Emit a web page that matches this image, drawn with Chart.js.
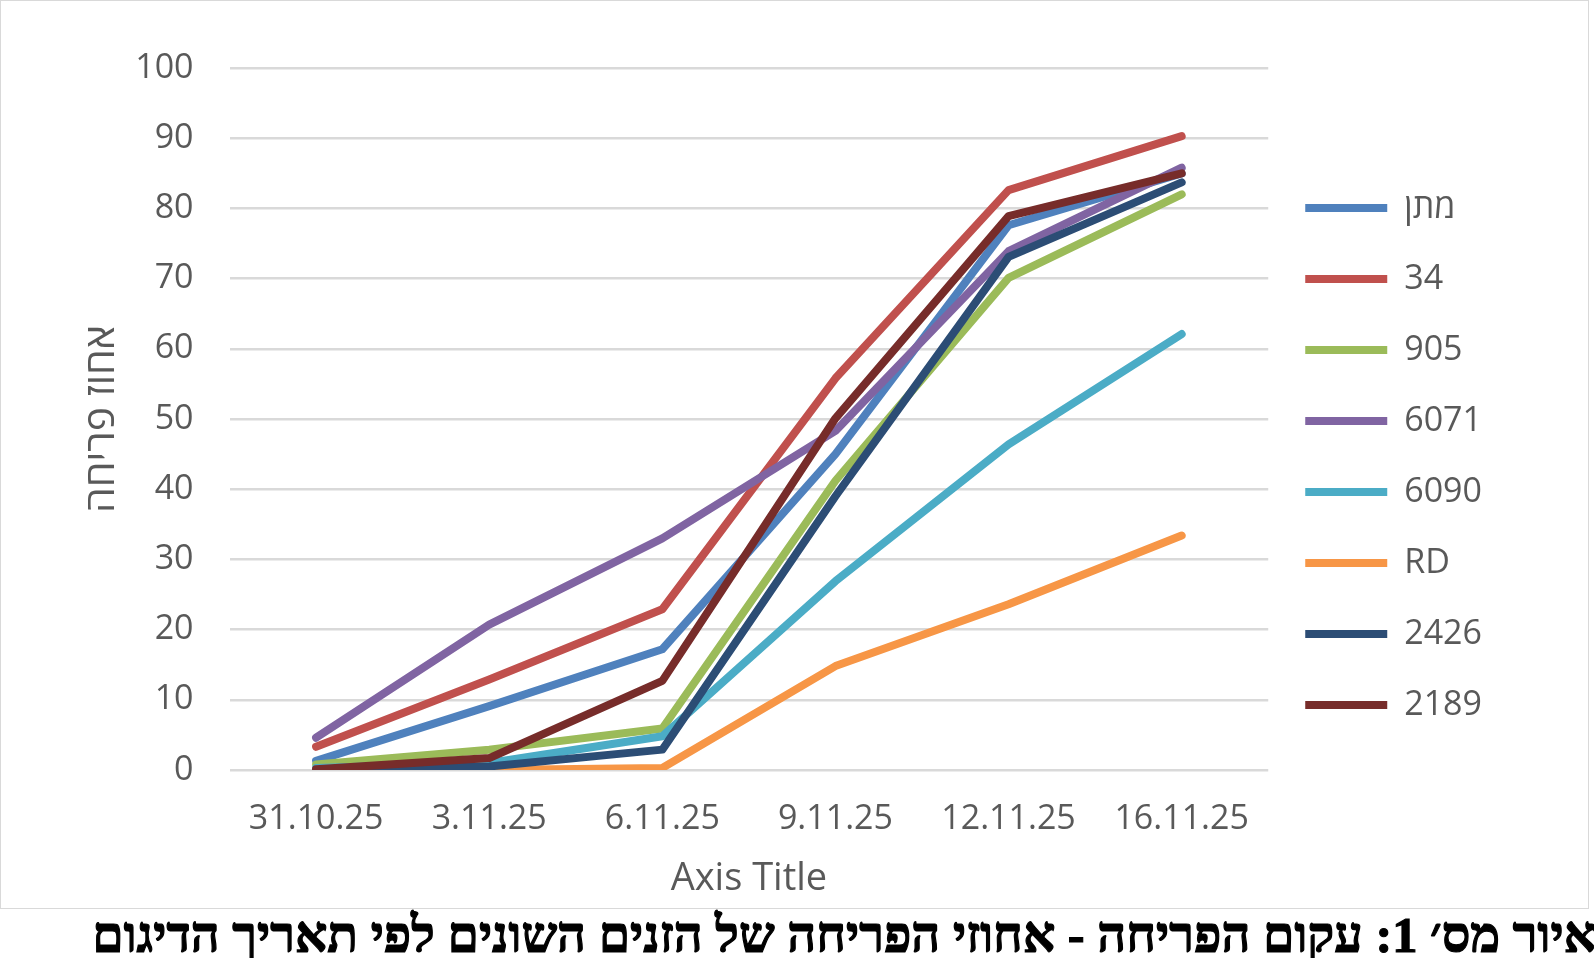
<!DOCTYPE html>
<html lang="he">
<head>
<meta charset="utf-8">
<title>עקום הפריחה</title>
<script src="https://cdn.jsdelivr.net/npm/chart.js@4/dist/chart.umd.min.js"></script>
<style>
  html, body { margin: 0; padding: 0; background: #fff; }
  body { width: 1594px; height: 958px; position: relative; overflow: hidden; }
  #frame {
    position: absolute; left: 0; top: 0;
    width: 1587px; height: 907px;
    border: 1px solid #d9d9d9; box-sizing: content-box;
  }
  #frame canvas { display: block; }
  #caption {
    position: absolute; right: -2px; top: 910px;
    direction: rtl; white-space: nowrap;
    font-family: "Liberation Serif", "DejaVu Serif", serif;
    font-weight: bold; font-size: 50.4px; line-height: 50px; color: #000;
    -webkit-text-stroke: 1.2px #000;
  }
</style>
</head>
<body>
<div id="frame"><canvas id="bloom"></canvas></div>
<div id="caption">איור מס׳ 1: עקום הפריחה - אחוזי הפריחה של הזנים השונים לפי תאריך הדיגום</div>

<script>
// sampling dates
const dates = ['31.10.25', '3.11.25', '6.11.25', '9.11.25', '12.11.25', '16.11.25'];

// bloom percentage per variety
const matan = [1.3, 9.1, 17.2, 45, 77.6, 85];
const v34   = [3.3, 12.9, 22.9, 55.8, 82.6, 90.3];
const v905  = [0.8, 2.9, 5.9, 41.2, 70.1, 82.0];
const v6071 = [4.6, 20.7, 33.0, 48.3, 73.9, 85.8];
const v6090 = [0.3, 1.0, 4.8, 26.9, 46.4, 62.1];
const rd    = [0, 0, 0.3, 14.8, 23.6, 33.4];
const v2426 = [0, 0.5, 2.9, 39, 73.1, 83.7];
const v2189 = [0.1, 1.7, 12.7, 50.1, 78.9, 85];

const names  = ['מתן', '34', '905', '6071', '6090', 'RD', '2426', '2189'];
const values = [matan, v34, v905, v6071, v6090, rd, v2426, v2189];
const colors = ['#4F81BD', '#C0504D', '#9BBB59', '#8064A2', '#4BACC6', '#F79646', '#2C4D75', '#772C2A'];

const yTicks = [0, 10, 20, 30, 40, 50, 60, 70, 80, 90, 100];

const canvas = document.getElementById('bloom');
canvas.width = 1587;
canvas.height = 907;

const tickFont = { family: 'Open Sans', size: 34 };

new Chart(canvas, {
  type: 'line',
  data: {
    labels: dates,
    datasets: names.map((name, i) => ({
      label: name,
      data: values[i],
      borderColor: colors[i],
      backgroundColor: colors[i],
      borderWidth: 8,
      borderCapStyle: 'round',
      borderJoinStyle: 'round',
      pointRadius: 0,
      pointStyle: 'line',
      tension: 0,
      order: -i   // later series on top, as in the original
    }))
  },
  options: {
    responsive: false,
    animation: false,
    devicePixelRatio: 1,
    layout: { padding: { left: 77, top: 10, right: 96, bottom: 6 } },
    plugins: {
      // empty spacer above the plot only, so the legend keeps the full height
      title: {
        display: true,
        text: '',
        fullSize: false,
        font: { size: 12 },
        padding: { top: 0, bottom: 42.6 }
      },
      legend: {
        position: 'right',
        labels: {
          usePointStyle: true,
          pointStyleWidth: 82,
          boxHeight: 8,
          padding: 37,
          color: '#595959',
          font: tickFont,
          sort: (a, b) => a.datasetIndex - b.datasetIndex
        }
      },
      tooltip: { enabled: false }
    },
    scales: {
      x: {
        offset: true,
        grid: { display: false, tickLength: 13.6 },
        border: { display: false },
        ticks: { color: '#595959', font: tickFont, padding: 15, maxRotation: 0 },
        title: {
          display: true,
          text: 'Axis Title',
          color: '#595959',
          font: { family: 'Open Sans', size: 38 },
          padding: { top: 2, bottom: 0 }
        }
      },
      y: {
        min: 0,
        max: 100,
        afterBuildTicks: axis => { axis.ticks = yTicks.map(v => ({ value: v })); },
        grid: { color: '#d9d9d9', lineWidth: 2.5, tickLength: 28, tickColor: 'rgba(0,0,0,0)' },
        border: { display: false },
        ticks: { color: '#595959', font: tickFont, padding: 8 },
        title: {
          display: true,
          text: 'אחוז פריחה',
          color: '#595959',
          font: { family: 'Open Sans', size: 41 },
          padding: 0
        }
      }
    }
  }
});
</script>
</body>
</html>
